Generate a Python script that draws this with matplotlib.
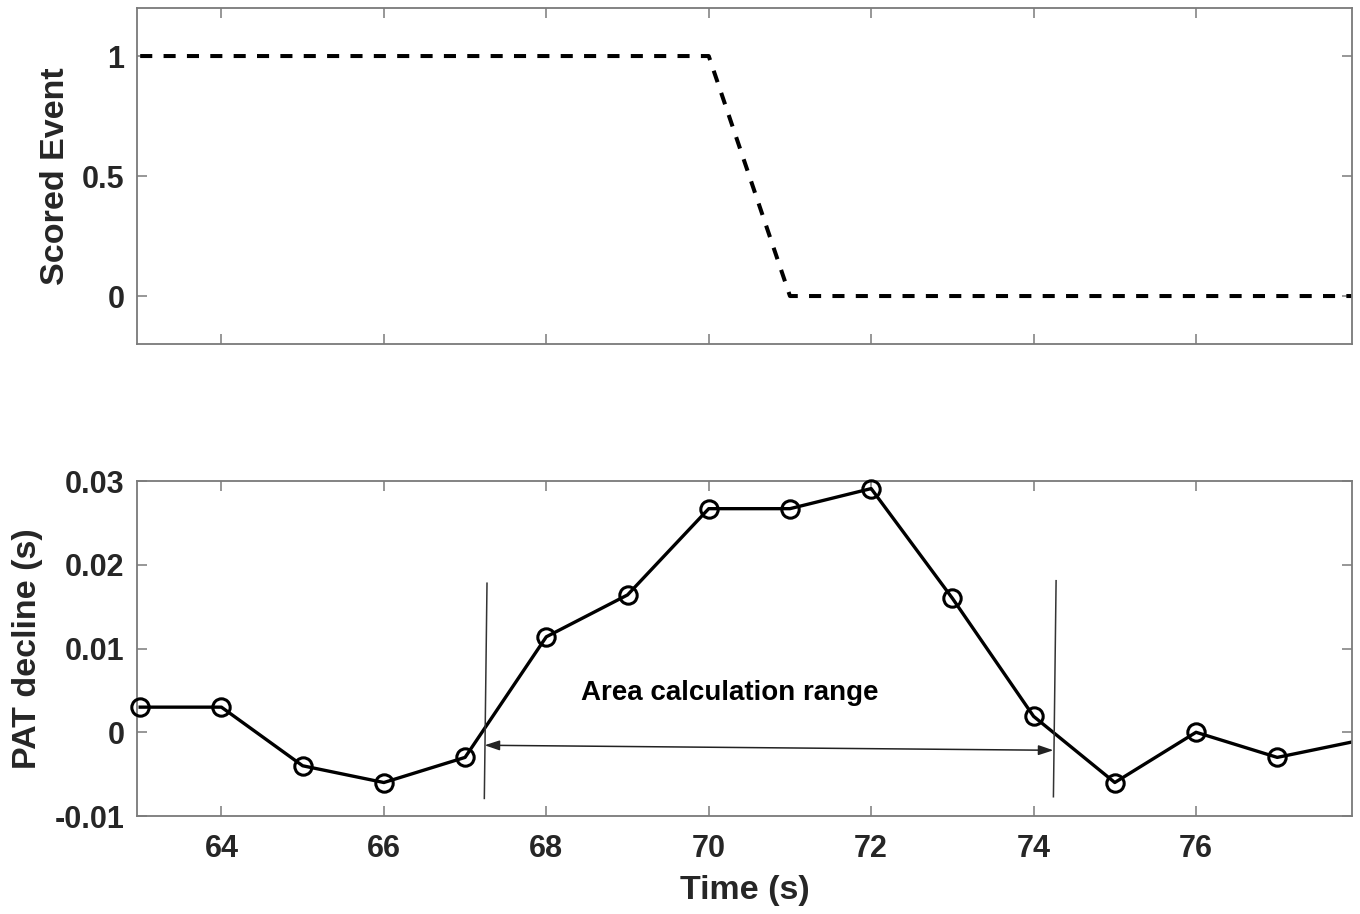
import matplotlib
matplotlib.use("Agg")
import matplotlib.pyplot as plt

plt.rcParams['font.family'] = ['Liberation Sans', 'DejaVu Sans']
plt.rcParams['font.weight'] = 'bold'

# Scored event (top panel)
event_time = [63, 70, 71, 78]
event_value = [1, 1, 0, 0]

# PAT decline per beat (bottom panel)
time_s = [63, 64, 65, 66, 67, 68, 69, 70, 71, 72, 73, 74, 75, 76, 77, 78]
pat_decline = [0.003, 0.003, -0.004, -0.006, -0.003, 0.0114, 0.0164, 0.0267,
               0.0267, 0.0291, 0.016, 0.0019, -0.006, 0.0, -0.003, -0.001]

# Boundaries of the integration window (x at top, x at bottom, y top, y bottom)
range_left = [67.27, 67.237, 0.0178, -0.0079]
range_right = [74.277, 74.244, 0.0181, -0.0077]
arrow_y = [-0.00155, -0.00215]
range_text = "Area calculation range"

xticks = [64, 66, 68, 70, 72, 74, 76]
xlim = (62.96, 77.92)

spine_gray = '#7a7a7a'
text_col = '#262626'

fig = plt.figure(figsize=(13.6, 9.14), dpi=100)
ax1 = fig.add_axes([0.1007, 0.6236, 0.8934, 0.3676])
ax2 = fig.add_axes([0.1007, 0.1072, 0.8934, 0.3665])

for ax in (ax1, ax2):
    for s in ax.spines.values():
        s.set_color(spine_gray)
        s.set_linewidth(1.3)
    ax.tick_params(direction='in', length=7, width=1.1, color=spine_gray,
                   top=True, right=True, labelsize=22, labelcolor=text_col)
    ax.set_xlim(*xlim)
    ax.set_xticks(xticks)
    for lab in ax.get_xticklabels() + ax.get_yticklabels():
        lab.set_fontweight('bold')

# Top panel
ax1.plot(event_time, event_value, color='black', lw=2.9, ls=(0, (3, 2.8)))
ax1.set_ylim(-0.2, 1.2)
ax1.set_yticks([0, 0.5, 1])
ax1.set_yticklabels(['0', '0.5', '1'])
ax1.tick_params(axis='x', labelbottom=False)
ax1.tick_params(axis='y', pad=9)
ax1.set_ylabel('Scored Event', fontsize=24.5, fontweight='bold', color=text_col)
ax1.yaxis.set_label_coords(-0.054, 0.5)

# Bottom panel: connecting line clipped to the axes, markers drawn on top
ax2.plot(time_s, pat_decline, color='black', lw=2.4)
visible = [i for i, t in enumerate(time_s) if xlim[0] <= t <= xlim[1]]
ax2.plot([time_s[i] for i in visible], [pat_decline[i] for i in visible],
         ls='none', marker='o', ms=12.5, mfc='none', mec='black', mew=2.2,
         clip_on=False, zorder=3)
ax2.set_ylim(-0.01, 0.03)
ax2.set_yticks([-0.01, 0, 0.01, 0.02, 0.03])
ax2.set_yticklabels(['-0.01', '0', '0.01', '0.02', '0.03'])
ax2.tick_params(axis='y', pad=9)
ax2.tick_params(axis='x', pad=13)
ax2.set_xlabel('Time (s)', fontsize=24.5, fontweight='bold', color=text_col,
               labelpad=8)
ax2.set_ylabel('PAT decline (s)', fontsize=24.5, fontweight='bold', color=text_col)
ax2.yaxis.set_label_coords(-0.077, 0.5)

for b in (range_left, range_right):
    ax2.plot([b[0], b[1]], [b[2], b[3]], color='#333333', lw=1.1)

ax2.annotate('', xy=(range_left[0] - 0.03, arrow_y[0]),
             xytext=(range_right[1], arrow_y[1]),
             arrowprops=dict(arrowstyle='<|-|>,head_length=0.9,head_width=0.3',
                             color='#222222', lw=1.1, shrinkA=0, shrinkB=0))

ax2.text(70.26, 0.00466, range_text, fontsize=20, fontweight='bold',
         ha='center', va='center', color='black')

fig.savefig('out.png', dpi=100)
